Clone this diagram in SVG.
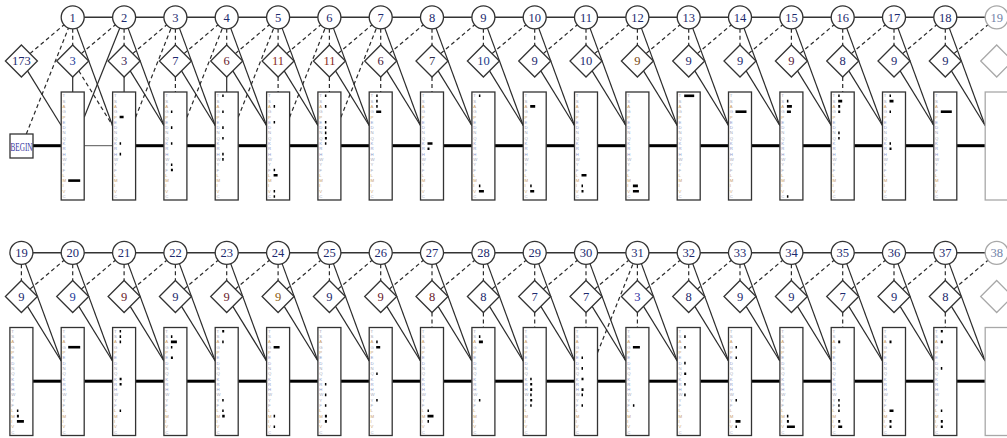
<svg xmlns="http://www.w3.org/2000/svg" xmlns:xlink="http://www.w3.org/1999/xlink" width="1007" height="438" viewBox="0 0 1007 438">
<style>
.sol{stroke:#2b2b2b;stroke-width:1.2;fill:none}
.dash{stroke:#2b2b2b;stroke-width:1.2;fill:none;stroke-dasharray:4,3}
.thick{stroke:#000;stroke-width:3;fill:none}
.thin{stroke:#555;stroke-width:1;fill:none}
.top{stroke:#333;stroke-width:1.6;fill:none}
.nd circle,.nd polygon,.nd rect,.nd use.sh{fill:#fff;stroke:#333;stroke-width:1.3}
.gh circle,.gh polygon,.gh rect,.gh use.sh{fill:#fff;stroke:#a8a8a8;stroke-width:1.3}
.lab{font-family:"Liberation Serif",serif;font-size:12.5px;text-anchor:middle;fill:#1c2a6e}
.aa text{font-family:"Liberation Sans",sans-serif;font-size:4.3px;fill:#a4a8b8}
.aa .o{fill:#c9a06a}
.aa .b2{fill:#8c98c8}
.b{fill:#000}
</style>
<defs>
<polygon id="dia" points="0,45 16,61 0,77 -16,61"/>
<g id="aa" class="aa">
<text x="1.3" y="5.3">T</text><text x="1.3" y="10.6">S</text><text x="1.3" y="15.9" class="o">A</text><text x="1.3" y="21.2">G</text><text x="1.3" y="26.5" class="o">P</text><text x="1.3" y="31.8" class="b2">E</text><text x="1.3" y="37.1" class="b2">D</text><text x="1.3" y="42.4">N</text><text x="1.3" y="47.7">Q</text><text x="1.3" y="53" class="b2">K</text><text x="1.3" y="58.3" class="b2">R</text><text x="1.3" y="63.6" class="b2">H</text><text x="1.3" y="68.9">W</text><text x="1.3" y="74.2">Y</text><text x="1.3" y="79.5">F</text><text x="1.3" y="84.8" class="o">L</text><text x="1.3" y="90.1" class="o">M</text><text x="1.3" y="95.4" class="o">I</text><text x="1.3" y="100.7" class="o">V</text><text x="1.3" y="106">C</text>
</g>
<line id="eDI" class="dash" x1="0" y1="28.8" x2="0" y2="45"/>
<line id="eMI" class="sol" x1="0" y1="77" x2="0" y2="92"/>
<line id="eMId" class="dash" x1="0" y1="77" x2="0" y2="92"/>
<line id="eDM" class="sol" x1="4" y1="28.1" x2="39.8" y2="125.5"/>
<line id="eIM" class="sol" x1="6.1" y1="70.9" x2="39.8" y2="125.5"/>
<line id="eIMd" class="dash" x1="6.1" y1="70.9" x2="39.8" y2="125.5"/>
<line id="eID" class="dash" x1="8.6" y1="53.6" x2="42.6" y2="24.8"/>
<line id="eMD" class="dash" x1="11.5" y1="117.2" x2="47.1" y2="28"/>
<line id="eMDs" class="sol" x1="11.5" y1="117.2" x2="47.1" y2="28"/>
<line id="eMM" class="thick" x1="11.5" y1="145.7" x2="39.8" y2="145.7"/>
<line id="eMMt" class="thin" x1="11.5" y1="145.7" x2="39.8" y2="145.7"/>
</defs>
<rect width="1007" height="438" fill="#fff"/>

<g id="connectors">
<line class="top" x1="72.7" y1="17.3" x2="996.7" y2="17.3"/>
<line class="top" x1="21.4" y1="252.8" x2="996.7" y2="252.8"/>
<line class="thick" x1="33" y1="145.7" x2="61.2" y2="145.7"/>
<line class="dash" x1="26.3" y1="134" x2="68.5" y2="28"/>
<g id="row1-edges">
<use href="#eMMt" x="72.7"/>
<use href="#eMM" x="124.1"/><use href="#eMM" x="175.4"/><use href="#eMM" x="226.7"/><use href="#eMM" x="278.1"/><use href="#eMM" x="329.4"/><use href="#eMM" x="380.7"/><use href="#eMM" x="432"/><use href="#eMM" x="483.4"/><use href="#eMM" x="534.7"/><use href="#eMM" x="586"/><use href="#eMM" x="637.4"/><use href="#eMM" x="688.7"/><use href="#eMM" x="740"/><use href="#eMM" x="791.4"/><use href="#eMM" x="842.7"/><use href="#eMM" x="894"/><use href="#eMM" x="945.3"/>
<use href="#eDI" x="72.7"/><use href="#eDI" x="124.1"/><use href="#eDI" x="175.4"/><use href="#eDI" x="226.7"/><use href="#eDI" x="278.1"/><use href="#eDI" x="329.4"/><use href="#eDI" x="380.7"/><use href="#eDI" x="432"/><use href="#eDI" x="483.4"/><use href="#eDI" x="534.7"/><use href="#eDI" x="586"/><use href="#eDI" x="637.4"/><use href="#eDI" x="688.7"/><use href="#eDI" x="740"/><use href="#eDI" x="791.4"/><use href="#eDI" x="842.7"/><use href="#eDI" x="894"/><use href="#eDI" x="945.3"/>
<use href="#eMI" x="72.7"/><use href="#eMI" x="124.1"/><use href="#eMId" x="175.4"/><use href="#eMI" x="226.7"/><use href="#eMId" x="278.1"/><use href="#eMId" x="329.4"/><use href="#eMId" x="380.7"/><use href="#eMId" x="432"/><use href="#eMId" x="842.7"/>
<use href="#eDM" x="72.7"/><use href="#eDM" x="124.1"/><use href="#eDM" x="175.4"/><use href="#eDM" x="226.7"/><use href="#eDM" x="278.1"/><use href="#eDM" x="329.4"/><use href="#eDM" x="380.7"/><use href="#eDM" x="432"/><use href="#eDM" x="483.4"/><use href="#eDM" x="534.7"/><use href="#eDM" x="586"/><use href="#eDM" x="637.4"/><use href="#eDM" x="688.7"/><use href="#eDM" x="740"/><use href="#eDM" x="791.4"/><use href="#eDM" x="842.7"/><use href="#eDM" x="894"/><use href="#eDM" x="945.3"/>
<use href="#eIM" x="21.4"/><use href="#eIMd" x="72.7"/><use href="#eIM" x="124.1"/><use href="#eIM" x="175.4"/><use href="#eIM" x="226.7"/><use href="#eIM" x="278.1"/><use href="#eIM" x="329.4"/><use href="#eIM" x="380.7"/><use href="#eIM" x="432"/><use href="#eIM" x="483.4"/><use href="#eIM" x="534.7"/><use href="#eIM" x="586"/><use href="#eIM" x="637.4"/><use href="#eIM" x="688.7"/><use href="#eIM" x="740"/><use href="#eIM" x="791.4"/><use href="#eIM" x="842.7"/><use href="#eIM" x="894"/><use href="#eIM" x="945.3"/>
<use href="#eID" x="21.4"/><use href="#eID" x="72.7"/><use href="#eID" x="124.1"/><use href="#eID" x="175.4"/><use href="#eID" x="226.7"/><use href="#eID" x="278.1"/><use href="#eID" x="329.4"/><use href="#eID" x="380.7"/><use href="#eID" x="432"/><use href="#eID" x="483.4"/><use href="#eID" x="534.7"/><use href="#eID" x="586"/><use href="#eID" x="637.4"/><use href="#eID" x="688.7"/><use href="#eID" x="740"/><use href="#eID" x="791.4"/><use href="#eID" x="842.7"/><use href="#eID" x="894"/><use href="#eID" x="945.3"/>
<use href="#eMDs" x="72.7"/><use href="#eMD" x="124.1"/><use href="#eMD" x="175.4"/><use href="#eMD" x="226.7"/><use href="#eMD" x="278.1"/><use href="#eMD" x="329.4"/>
</g>
<g id="row2-edges" transform="translate(0,235.5)">
<use href="#eMM" x="21.4"/><use href="#eMM" x="72.7"/><use href="#eMM" x="124.1"/><use href="#eMM" x="175.4"/><use href="#eMM" x="226.7"/><use href="#eMM" x="278.1"/><use href="#eMM" x="329.4"/><use href="#eMM" x="380.7"/><use href="#eMM" x="432"/><use href="#eMM" x="483.4"/><use href="#eMM" x="534.7"/><use href="#eMM" x="586"/><use href="#eMM" x="637.4"/><use href="#eMM" x="688.7"/><use href="#eMM" x="740"/><use href="#eMM" x="791.4"/><use href="#eMM" x="842.7"/><use href="#eMM" x="894"/><use href="#eMM" x="945.3"/>
<use href="#eDI" x="21.4"/><use href="#eDI" x="72.7"/><use href="#eDI" x="124.1"/><use href="#eDI" x="175.4"/><use href="#eDI" x="226.7"/><use href="#eDI" x="278.1"/><use href="#eDI" x="329.4"/><use href="#eDI" x="380.7"/><use href="#eDI" x="432"/><use href="#eDI" x="483.4"/><use href="#eDI" x="534.7"/><use href="#eDI" x="586"/><use href="#eDI" x="637.4"/><use href="#eDI" x="688.7"/><use href="#eDI" x="740"/><use href="#eDI" x="791.4"/><use href="#eDI" x="842.7"/><use href="#eDI" x="894"/><use href="#eDI" x="945.3"/>
<use href="#eMId" x="432"/><use href="#eMId" x="483.4"/><use href="#eMId" x="534.7"/><use href="#eMId" x="586"/><use href="#eMId" x="637.4"/><use href="#eMId" x="842.7"/><use href="#eMId" x="945.3"/>
<use href="#eDM" x="21.4"/><use href="#eDM" x="72.7"/><use href="#eDM" x="124.1"/><use href="#eDM" x="175.4"/><use href="#eDM" x="226.7"/><use href="#eDM" x="278.1"/><use href="#eDM" x="329.4"/><use href="#eDM" x="380.7"/><use href="#eDM" x="432"/><use href="#eDM" x="483.4"/><use href="#eDM" x="534.7"/><use href="#eDM" x="586"/><use href="#eDM" x="637.4"/><use href="#eDM" x="688.7"/><use href="#eDM" x="740"/><use href="#eDM" x="791.4"/><use href="#eDM" x="842.7"/><use href="#eDM" x="894"/><use href="#eDM" x="945.3"/>
<use href="#eIM" x="21.4"/><use href="#eIM" x="72.7"/><use href="#eIM" x="124.1"/><use href="#eIM" x="175.4"/><use href="#eIM" x="226.7"/><use href="#eIM" x="278.1"/><use href="#eIM" x="329.4"/><use href="#eIM" x="380.7"/><use href="#eIM" x="432"/><use href="#eIM" x="483.4"/><use href="#eIM" x="534.7"/><use href="#eIM" x="586"/><use href="#eIM" x="637.4"/><use href="#eIM" x="688.7"/><use href="#eIM" x="740"/><use href="#eIM" x="791.4"/><use href="#eIM" x="842.7"/><use href="#eIM" x="894"/><use href="#eIM" x="945.3"/>
<use href="#eID" x="21.4"/><use href="#eID" x="72.7"/><use href="#eID" x="124.1"/><use href="#eID" x="175.4"/><use href="#eID" x="226.7"/><use href="#eID" x="278.1"/><use href="#eID" x="329.4"/><use href="#eID" x="380.7"/><use href="#eID" x="432"/><use href="#eID" x="483.4"/><use href="#eID" x="534.7"/><use href="#eID" x="586"/><use href="#eID" x="637.4"/><use href="#eID" x="688.7"/><use href="#eID" x="740"/><use href="#eID" x="791.4"/><use href="#eID" x="842.7"/><use href="#eID" x="894"/><use href="#eID" x="945.3"/>
<use href="#eMD" x="586"/>
</g>
</g>

<g id="BEGIN" class="nd"><rect x="10" y="134" width="23" height="24"/><text x="21.5" y="150.5" font-family="Liberation Serif,serif" font-size="12" fill="#3535a0" textLength="22" lengthAdjust="spacingAndGlyphs" text-anchor="middle">BEGIN</text></g>

<!-- Row 1 delete states -->
<g id="D1" class="nd" transform="translate(72.7,0)"><circle cy="17.3" r="11.5"/><text class="lab" y="21.6">1</text></g>
<g id="D2" class="nd" transform="translate(124.1,0)"><circle cy="17.3" r="11.5"/><text class="lab" y="21.6">2</text></g>
<g id="D3" class="nd" transform="translate(175.4,0)"><circle cy="17.3" r="11.5"/><text class="lab" y="21.6">3</text></g>
<g id="D4" class="nd" transform="translate(226.7,0)"><circle cy="17.3" r="11.5"/><text class="lab" y="21.6">4</text></g>
<g id="D5" class="nd" transform="translate(278.1,0)"><circle cy="17.3" r="11.5"/><text class="lab" y="21.6">5</text></g>
<g id="D6" class="nd" transform="translate(329.4,0)"><circle cy="17.3" r="11.5"/><text class="lab" y="21.6">6</text></g>
<g id="D7" class="nd" transform="translate(380.7,0)"><circle cy="17.3" r="11.5"/><text class="lab" y="21.6">7</text></g>
<g id="D8" class="nd" transform="translate(432,0)"><circle cy="17.3" r="11.5"/><text class="lab" y="21.6">8</text></g>
<g id="D9" class="nd" transform="translate(483.4,0)"><circle cy="17.3" r="11.5"/><text class="lab" y="21.6">9</text></g>
<g id="D10" class="nd" transform="translate(534.7,0)"><circle cy="17.3" r="11.5"/><text class="lab" y="21.6">10</text></g>
<g id="D11" class="nd" transform="translate(586,0)"><circle cy="17.3" r="11.5"/><text class="lab" y="21.6">11</text></g>
<g id="D12" class="nd" transform="translate(637.4,0)"><circle cy="17.3" r="11.5"/><text class="lab" y="21.6">12</text></g>
<g id="D13" class="nd" transform="translate(688.7,0)"><circle cy="17.3" r="11.5"/><text class="lab" y="21.6">13</text></g>
<g id="D14" class="nd" transform="translate(740,0)"><circle cy="17.3" r="11.5"/><text class="lab" y="21.6">14</text></g>
<g id="D15" class="nd" transform="translate(791.4,0)"><circle cy="17.3" r="11.5"/><text class="lab" y="21.6">15</text></g>
<g id="D16" class="nd" transform="translate(842.7,0)"><circle cy="17.3" r="11.5"/><text class="lab" y="21.6">16</text></g>
<g id="D17" class="nd" transform="translate(894,0)"><circle cy="17.3" r="11.5"/><text class="lab" y="21.6">17</text></g>
<g id="D18" class="nd" transform="translate(945.3,0)"><circle cy="17.3" r="11.5"/><text class="lab" y="21.6">18</text></g>
<g id="D19-next" class="gh" transform="translate(996.7,0)"><circle cy="17.3" r="11.5"/><text class="lab" y="21.6" style="fill:#7283a8">19</text></g>

<!-- Row 1 insert states -->
<g id="I0" class="nd" transform="translate(21.4,0)"><use class="sh" href="#dia"/><text class="lab" y="65.3">173</text></g>
<g id="I1" class="nd" transform="translate(72.7,0)"><use class="sh" href="#dia"/><text class="lab" y="65.3" style="fill:#1a3a9a">3</text></g>
<g id="I2" class="nd" transform="translate(124.1,0)"><use class="sh" href="#dia"/><text class="lab" y="65.3" style="fill:#3a2050">3</text></g>
<g id="I3" class="nd" transform="translate(175.4,0)"><use class="sh" href="#dia"/><text class="lab" y="65.3">7</text></g>
<g id="I4" class="nd" transform="translate(226.7,0)"><use class="sh" href="#dia"/><text class="lab" y="65.3" style="fill:#6a1a2a">6</text></g>
<g id="I5" class="nd" transform="translate(278.1,0)"><use class="sh" href="#dia"/><text class="lab" y="65.3" style="fill:#8a2a1a">11</text></g>
<g id="I6" class="nd" transform="translate(329.4,0)"><use class="sh" href="#dia"/><text class="lab" y="65.3" style="fill:#8a2a1a">11</text></g>
<g id="I7" class="nd" transform="translate(380.7,0)"><use class="sh" href="#dia"/><text class="lab" y="65.3" style="fill:#4a1a3a">6</text></g>
<g id="I8" class="nd" transform="translate(432,0)"><use class="sh" href="#dia"/><text class="lab" y="65.3" style="fill:#2a2a4a">7</text></g>
<g id="I9" class="nd" transform="translate(483.4,0)"><use class="sh" href="#dia"/><text class="lab" y="65.3" style="fill:#1a3a8a">10</text></g>
<g id="I10" class="nd" transform="translate(534.7,0)"><use class="sh" href="#dia"/><text class="lab" y="65.3">9</text></g>
<g id="I11" class="nd" transform="translate(586,0)"><use class="sh" href="#dia"/><text class="lab" y="65.3">10</text></g>
<g id="I12" class="nd" transform="translate(637.4,0)"><use class="sh" href="#dia"/><text class="lab" y="65.3" style="fill:#7a4a10">9</text></g>
<g id="I13" class="nd" transform="translate(688.7,0)"><use class="sh" href="#dia"/><text class="lab" y="65.3">9</text></g>
<g id="I14" class="nd" transform="translate(740,0)"><use class="sh" href="#dia"/><text class="lab" y="65.3">9</text></g>
<g id="I15" class="nd" transform="translate(791.4,0)"><use class="sh" href="#dia"/><text class="lab" y="65.3" style="fill:#5a1a3a">9</text></g>
<g id="I16" class="nd" transform="translate(842.7,0)"><use class="sh" href="#dia"/><text class="lab" y="65.3">8</text></g>
<g id="I17" class="nd" transform="translate(894,0)"><use class="sh" href="#dia"/><text class="lab" y="65.3">9</text></g>
<g id="I18" class="nd" transform="translate(945.3,0)"><use class="sh" href="#dia"/><text class="lab" y="65.3">9</text></g>
<g id="I19-next" class="gh" transform="translate(996.7,0)"><use class="sh" href="#dia"/></g>

<!-- Row 1 match states -->
<g id="M1" class="nd" transform="translate(72.7,0)"><rect x="-11.5" y="92" width="23" height="108"/><use href="#aa" x="-11.5" y="92"/><path class="b" d="M-4.5 179.3h12v2.6h-12z"/></g>
<g id="M2" class="nd" transform="translate(124.1,0)"><rect x="-11.5" y="92" width="23" height="108"/><use href="#aa" x="-11.5" y="92"/><path class="b" d="M-4.5 115.7h4v2.6h-4zM-4.5 142.2h1.5v2.6h-1.5zM-4.5 152.8h1.5v2.6h-1.5z"/></g>
<g id="M3" class="nd" transform="translate(175.4,0)"><rect x="-11.5" y="92" width="23" height="108"/><use href="#aa" x="-11.5" y="92"/><path class="b" d="M-4.5 110.4h1.5v2.6h-1.5zM-4.5 126.3h1.5v2.6h-1.5zM-4.5 142.2h1.5v2.6h-1.5zM-4.5 163.4h1.5v2.6h-1.5zM-4.5 168.7h2v2.6h-2z"/></g>
<g id="M4" class="nd" transform="translate(226.7,0)"><rect x="-11.5" y="92" width="23" height="108"/><use href="#aa" x="-11.5" y="92"/><path class="b" d="M-4.5 94.5h1.5v2.6h-1.5zM-4.5 110.4h1.5v2.6h-1.5zM-4.5 126.3h1.5v2.6h-1.5zM-4.5 136.9h1.5v2.6h-1.5zM-4.5 152.8h1.5v2.6h-1.5zM-4.5 158.1h1.5v2.6h-1.5z"/></g>
<g id="M5" class="nd" transform="translate(278.1,0)"><rect x="-11.5" y="92" width="23" height="108"/><use href="#aa" x="-11.5" y="92"/><path class="b" d="M-4.5 105.1h1.5v2.6h-1.5zM-4.5 121h1.5v2.6h-1.5zM-4.5 168.7h1.5v2.6h-1.5zM-4.5 174h4v2.6h-4zM-4.5 189.9h1.5v2.6h-1.5zM-4.5 195.2h1.5v2.6h-1.5z"/></g>
<g id="M6" class="nd" transform="translate(329.4,0)"><rect x="-11.5" y="92" width="23" height="108"/><use href="#aa" x="-11.5" y="92"/><path class="b" d="M-4.5 94.5h1.5v2.6h-1.5zM-4.5 105.1h1.5v2.6h-1.5zM-4.5 121h1.5v2.6h-1.5zM-4.5 126.3h1.5v2.6h-1.5zM-4.5 131.6h1.5v2.6h-1.5zM-4.5 136.9h2v2.6h-2zM-4.5 142.2h1.5v2.6h-1.5z"/></g>
<g id="M7" class="nd" transform="translate(380.7,0)"><rect x="-11.5" y="92" width="23" height="108"/><use href="#aa" x="-11.5" y="92"/><path class="b" d="M-4.5 94.5h1.5v2.6h-1.5zM-4.5 99.8h1.5v2.6h-1.5zM-4.5 105.1h1.5v2.6h-1.5zM-4.5 110.4h5v2.6h-5z"/></g>
<g id="M8" class="nd" transform="translate(432,0)"><rect x="-11.5" y="92" width="23" height="108"/><use href="#aa" x="-11.5" y="92"/><path class="b" d="M-4.5 142.2h5v2.6h-5zM-4.5 147.5h2v2.6h-2z"/></g>
<g id="M9" class="nd" transform="translate(483.4,0)"><rect x="-11.5" y="92" width="23" height="108"/><use href="#aa" x="-11.5" y="92"/><path class="b" d="M-4.5 94.5h1.5v2.6h-1.5zM-4.5 184.6h1.5v2.6h-1.5zM-4.5 189.9h5v2.6h-5z"/></g>
<g id="M10" class="nd" transform="translate(534.7,0)"><rect x="-11.5" y="92" width="23" height="108"/><use href="#aa" x="-11.5" y="92"/><path class="b" d="M-4.5 105.1h5v2.6h-5zM-4.5 184.6h1.5v2.6h-1.5zM-4.5 189.9h4v2.6h-4z"/></g>
<g id="M11" class="nd" transform="translate(586,0)"><rect x="-11.5" y="92" width="23" height="108"/><use href="#aa" x="-11.5" y="92"/><path class="b" d="M-4.5 174h5v2.6h-5zM-4.5 184.6h1.5v2.6h-1.5zM-4.5 189.9h2v2.6h-2z"/></g>
<g id="M12" class="nd" transform="translate(637.4,0)"><rect x="-11.5" y="92" width="23" height="108"/><use href="#aa" x="-11.5" y="92"/><path class="b" d="M-4.5 184.6h5v2.6h-5zM-4.5 189.9h6v2.6h-6z"/></g>
<g id="M13" class="nd" transform="translate(688.7,0)"><rect x="-11.5" y="92" width="23" height="108"/><use href="#aa" x="-11.5" y="92"/><path class="b" d="M-4.5 94.5h10v2.6h-10z"/></g>
<g id="M14" class="nd" transform="translate(740,0)"><rect x="-11.5" y="92" width="23" height="108"/><use href="#aa" x="-11.5" y="92"/><path class="b" d="M-4.5 110.4h11v2.6h-11z"/></g>
<g id="M15" class="nd" transform="translate(791.4,0)"><rect x="-11.5" y="92" width="23" height="108"/><use href="#aa" x="-11.5" y="92"/><path class="b" d="M-4.5 99.8h1.5v2.6h-1.5zM-4.5 105.1h5v2.6h-5zM-4.5 110.4h4v2.6h-4zM-4.5 195.2h1.5v2.6h-1.5z"/></g>
<g id="M16" class="nd" transform="translate(842.7,0)"><rect x="-11.5" y="92" width="23" height="108"/><use href="#aa" x="-11.5" y="92"/><path class="b" d="M-4.5 94.5h1.5v2.6h-1.5zM-4.5 99.8h4v2.6h-4zM-4.5 105.1h2v2.6h-2zM-4.5 110.4h2v2.6h-2zM-4.5 131.6h1.5v2.6h-1.5zM-4.5 136.9h1.5v2.6h-1.5z"/></g>
<g id="M17" class="nd" transform="translate(894,0)"><rect x="-11.5" y="92" width="23" height="108"/><use href="#aa" x="-11.5" y="92"/><path class="b" d="M-4.5 94.5h1.5v2.6h-1.5zM-4.5 99.8h4v2.6h-4zM-4.5 110.4h1.5v2.6h-1.5zM-4.5 142.2h1.5v2.6h-1.5zM-4.5 147.5h2v2.6h-2z"/></g>
<g id="M18" class="nd" transform="translate(945.3,0)"><rect x="-11.5" y="92" width="23" height="108"/><use href="#aa" x="-11.5" y="92"/><path class="b" d="M-4.5 110.4h11v2.6h-11z"/></g>
<g id="M19-next" class="gh" transform="translate(996.7,0)"><rect x="-11.5" y="92" width="23" height="108"/></g>

<!-- Row 2 delete states -->
<g id="D19" class="nd" transform="translate(21.4,235.5)"><circle cy="17.3" r="11.5"/><text class="lab" y="21.6">19</text></g>
<g id="D20" class="nd" transform="translate(72.7,235.5)"><circle cy="17.3" r="11.5"/><text class="lab" y="21.6">20</text></g>
<g id="D21" class="nd" transform="translate(124.1,235.5)"><circle cy="17.3" r="11.5"/><text class="lab" y="21.6">21</text></g>
<g id="D22" class="nd" transform="translate(175.4,235.5)"><circle cy="17.3" r="11.5"/><text class="lab" y="21.6">22</text></g>
<g id="D23" class="nd" transform="translate(226.7,235.5)"><circle cy="17.3" r="11.5"/><text class="lab" y="21.6">23</text></g>
<g id="D24" class="nd" transform="translate(278.1,235.5)"><circle cy="17.3" r="11.5"/><text class="lab" y="21.6">24</text></g>
<g id="D25" class="nd" transform="translate(329.4,235.5)"><circle cy="17.3" r="11.5"/><text class="lab" y="21.6">25</text></g>
<g id="D26" class="nd" transform="translate(380.7,235.5)"><circle cy="17.3" r="11.5"/><text class="lab" y="21.6">26</text></g>
<g id="D27" class="nd" transform="translate(432,235.5)"><circle cy="17.3" r="11.5"/><text class="lab" y="21.6">27</text></g>
<g id="D28" class="nd" transform="translate(483.4,235.5)"><circle cy="17.3" r="11.5"/><text class="lab" y="21.6">28</text></g>
<g id="D29" class="nd" transform="translate(534.7,235.5)"><circle cy="17.3" r="11.5"/><text class="lab" y="21.6">29</text></g>
<g id="D30" class="nd" transform="translate(586,235.5)"><circle cy="17.3" r="11.5"/><text class="lab" y="21.6">30</text></g>
<g id="D31" class="nd" transform="translate(637.4,235.5)"><circle cy="17.3" r="11.5"/><text class="lab" y="21.6">31</text></g>
<g id="D32" class="nd" transform="translate(688.7,235.5)"><circle cy="17.3" r="11.5"/><text class="lab" y="21.6">32</text></g>
<g id="D33" class="nd" transform="translate(740,235.5)"><circle cy="17.3" r="11.5"/><text class="lab" y="21.6">33</text></g>
<g id="D34" class="nd" transform="translate(791.4,235.5)"><circle cy="17.3" r="11.5"/><text class="lab" y="21.6">34</text></g>
<g id="D35" class="nd" transform="translate(842.7,235.5)"><circle cy="17.3" r="11.5"/><text class="lab" y="21.6">35</text></g>
<g id="D36" class="nd" transform="translate(894,235.5)"><circle cy="17.3" r="11.5"/><text class="lab" y="21.6">36</text></g>
<g id="D37" class="nd" transform="translate(945.3,235.5)"><circle cy="17.3" r="11.5"/><text class="lab" y="21.6">37</text></g>
<g id="D38-next" class="gh" transform="translate(996.7,235.5)"><circle cy="17.3" r="11.5"/><text class="lab" y="21.6" style="fill:#7283a8">38</text></g>

<!-- Row 2 insert states -->
<g id="I19" class="nd" transform="translate(21.4,235.5)"><use class="sh" href="#dia"/><text class="lab" y="65.3">9</text></g>
<g id="I20" class="nd" transform="translate(72.7,235.5)"><use class="sh" href="#dia"/><text class="lab" y="65.3" style="fill:#1a3a9a">9</text></g>
<g id="I21" class="nd" transform="translate(124.1,235.5)"><use class="sh" href="#dia"/><text class="lab" y="65.3" style="fill:#6a1a2a">9</text></g>
<g id="I22" class="nd" transform="translate(175.4,235.5)"><use class="sh" href="#dia"/><text class="lab" y="65.3">9</text></g>
<g id="I23" class="nd" transform="translate(226.7,235.5)"><use class="sh" href="#dia"/><text class="lab" y="65.3" style="fill:#6a1a2a">9</text></g>
<g id="I24" class="nd" transform="translate(278.1,235.5)"><use class="sh" href="#dia"/><text class="lab" y="65.3" style="fill:#8a5a10">9</text></g>
<g id="I25" class="nd" transform="translate(329.4,235.5)"><use class="sh" href="#dia"/><text class="lab" y="65.3">9</text></g>
<g id="I26" class="nd" transform="translate(380.7,235.5)"><use class="sh" href="#dia"/><text class="lab" y="65.3" style="fill:#6a1a2a">9</text></g>
<g id="I27" class="nd" transform="translate(432,235.5)"><use class="sh" href="#dia"/><text class="lab" y="65.3" style="fill:#6a1a2a">8</text></g>
<g id="I28" class="nd" transform="translate(483.4,235.5)"><use class="sh" href="#dia"/><text class="lab" y="65.3">8</text></g>
<g id="I29" class="nd" transform="translate(534.7,235.5)"><use class="sh" href="#dia"/><text class="lab" y="65.3">7</text></g>
<g id="I30" class="nd" transform="translate(586,235.5)"><use class="sh" href="#dia"/><text class="lab" y="65.3">7</text></g>
<g id="I31" class="nd" transform="translate(637.4,235.5)"><use class="sh" href="#dia"/><text class="lab" y="65.3" style="fill:#2a2aa0">3</text></g>
<g id="I32" class="nd" transform="translate(688.7,235.5)"><use class="sh" href="#dia"/><text class="lab" y="65.3">8</text></g>
<g id="I33" class="nd" transform="translate(740,235.5)"><use class="sh" href="#dia"/><text class="lab" y="65.3">9</text></g>
<g id="I34" class="nd" transform="translate(791.4,235.5)"><use class="sh" href="#dia"/><text class="lab" y="65.3">9</text></g>
<g id="I35" class="nd" transform="translate(842.7,235.5)"><use class="sh" href="#dia"/><text class="lab" y="65.3">7</text></g>
<g id="I36" class="nd" transform="translate(894,235.5)"><use class="sh" href="#dia"/><text class="lab" y="65.3">9</text></g>
<g id="I37" class="nd" transform="translate(945.3,235.5)"><use class="sh" href="#dia"/><text class="lab" y="65.3">8</text></g>
<g id="I38-next" class="gh" transform="translate(996.7,235.5)"><use class="sh" href="#dia"/></g>

<!-- Row 2 match states -->
<g id="M19" class="nd" transform="translate(21.4,235.5)"><rect x="-11.5" y="92" width="23" height="108"/><use href="#aa" x="-11.5" y="92"/><path class="b" d="M-4.5 174h1.5v2.6h-1.5zM-4.5 179.3h2v2.6h-2zM-4.5 184.6h7v2.6h-7z"/></g>
<g id="M20" class="nd" transform="translate(72.7,235.5)"><rect x="-11.5" y="92" width="23" height="108"/><use href="#aa" x="-11.5" y="92"/><path class="b" d="M-4.5 110.4h12v2.6h-12z"/></g>
<g id="M21" class="nd" transform="translate(124.1,235.5)"><rect x="-11.5" y="92" width="23" height="108"/><use href="#aa" x="-11.5" y="92"/><path class="b" d="M-4.5 94.5h1.5v2.6h-1.5zM-4.5 99.8h1.5v2.6h-1.5zM-4.5 105.1h1.5v2.6h-1.5zM-4.5 142.2h2v2.6h-2zM-4.5 147.5h2v2.6h-2zM-4.5 174h1.5v2.6h-1.5z"/></g>
<g id="M22" class="nd" transform="translate(175.4,235.5)"><rect x="-11.5" y="92" width="23" height="108"/><use href="#aa" x="-11.5" y="92"/><path class="b" d="M-4.5 99.8h1.5v2.6h-1.5zM-4.5 105.1h6v2.6h-6zM-4.5 110.4h1.5v2.6h-1.5zM-4.5 121h2v2.6h-2z"/></g>
<g id="M23" class="nd" transform="translate(226.7,235.5)"><rect x="-11.5" y="92" width="23" height="108"/><use href="#aa" x="-11.5" y="92"/><path class="b" d="M-4.5 94.5h2v2.6h-2zM-4.5 105.1h1.5v2.6h-1.5zM-4.5 163.4h1.5v2.6h-1.5zM-4.5 174h1.5v2.6h-1.5zM-4.5 179.3h2.5v2.6h-2.5z"/></g>
<g id="M24" class="nd" transform="translate(278.1,235.5)"><rect x="-11.5" y="92" width="23" height="108"/><use href="#aa" x="-11.5" y="92"/><path class="b" d="M-4.5 110.4h6v2.6h-6zM-4.5 179.3h1.5v2.6h-1.5zM-4.5 189.9h1.5v2.6h-1.5z"/></g>
<g id="M25" class="nd" transform="translate(329.4,235.5)"><rect x="-11.5" y="92" width="23" height="108"/><use href="#aa" x="-11.5" y="92"/><path class="b" d="M-4.5 147.5h1.5v2.6h-1.5zM-4.5 158.1h1.5v2.6h-1.5zM-4.5 168.7h1.5v2.6h-1.5zM-4.5 179.3h2v2.6h-2zM-4.5 184.6h2v2.6h-2z"/></g>
<g id="M26" class="nd" transform="translate(380.7,235.5)"><rect x="-11.5" y="92" width="23" height="108"/><use href="#aa" x="-11.5" y="92"/><path class="b" d="M-4.5 105.1h1.5v2.6h-1.5zM-4.5 110.4h4v2.6h-4zM-4.5 136.9h1.5v2.6h-1.5zM-4.5 163.4h1.5v2.6h-1.5z"/></g>
<g id="M27" class="nd" transform="translate(432,235.5)"><rect x="-11.5" y="92" width="23" height="108"/><use href="#aa" x="-11.5" y="92"/><path class="b" d="M-4.5 174h1.5v2.6h-1.5zM-4.5 179.3h6v2.6h-6zM-4.5 184.6h1.5v2.6h-1.5z"/></g>
<g id="M28" class="nd" transform="translate(483.4,235.5)"><rect x="-11.5" y="92" width="23" height="108"/><use href="#aa" x="-11.5" y="92"/><path class="b" d="M-4.5 99.8h1.5v2.6h-1.5zM-4.5 105.1h4v2.6h-4zM-4.5 163.4h1.5v2.6h-1.5z"/></g>
<g id="M29" class="nd" transform="translate(534.7,235.5)"><rect x="-11.5" y="92" width="23" height="108"/><use href="#aa" x="-11.5" y="92"/><path class="b" d="M-4.5 142.2h1.5v2.6h-1.5zM-4.5 147.5h2v2.6h-2zM-4.5 152.8h2v2.6h-2zM-4.5 158.1h1.5v2.6h-1.5zM-4.5 163.4h2v2.6h-2zM-4.5 168.7h1.5v2.6h-1.5z"/></g>
<g id="M30" class="nd" transform="translate(586,235.5)"><rect x="-11.5" y="92" width="23" height="108"/><use href="#aa" x="-11.5" y="92"/><path class="b" d="M-4.5 121h1.5v2.6h-1.5zM-4.5 131.6h1.5v2.6h-1.5zM-4.5 142.2h2v2.6h-2zM-4.5 152.8h2v2.6h-2zM-4.5 158.1h1.5v2.6h-1.5zM-4.5 168.7h1.5v2.6h-1.5z"/></g>
<g id="M31" class="nd" transform="translate(637.4,235.5)"><rect x="-11.5" y="92" width="23" height="108"/><use href="#aa" x="-11.5" y="92"/><path class="b" d="M-4.5 110.4h7v2.6h-7zM-4.5 168.7h1.5v2.6h-1.5z"/></g>
<g id="M32" class="nd" transform="translate(688.7,235.5)"><rect x="-11.5" y="92" width="23" height="108"/><use href="#aa" x="-11.5" y="92"/><path class="b" d="M-4.5 99.8h1.5v2.6h-1.5zM-4.5 110.4h1.5v2.6h-1.5zM-4.5 126.3h1.5v2.6h-1.5zM-4.5 136.9h2v2.6h-2zM-4.5 147.5h1.5v2.6h-1.5zM-4.5 158.1h1.5v2.6h-1.5z"/></g>
<g id="M33" class="nd" transform="translate(740,235.5)"><rect x="-11.5" y="92" width="23" height="108"/><use href="#aa" x="-11.5" y="92"/><path class="b" d="M-4.5 110.4h1.5v2.6h-1.5zM-4.5 121h1.5v2.6h-1.5zM-4.5 163.4h1.5v2.6h-1.5zM-4.5 184.6h5v2.6h-5zM-4.5 189.9h1.5v2.6h-1.5z"/></g>
<g id="M34" class="nd" transform="translate(791.4,235.5)"><rect x="-11.5" y="92" width="23" height="108"/><use href="#aa" x="-11.5" y="92"/><path class="b" d="M-4.5 179.3h1.5v2.6h-1.5zM-4.5 184.6h2v2.6h-2zM-4.5 189.9h8v2.6h-8z"/></g>
<g id="M35" class="nd" transform="translate(842.7,235.5)"><rect x="-11.5" y="92" width="23" height="108"/><use href="#aa" x="-11.5" y="92"/><path class="b" d="M-4.5 105.1h2v2.6h-2zM-4.5 163.4h1.5v2.6h-1.5zM-4.5 168.7h1.5v2.6h-1.5zM-4.5 174h1.5v2.6h-1.5zM-4.5 184.6h2v2.6h-2zM-4.5 189.9h4v2.6h-4z"/></g>
<g id="M36" class="nd" transform="translate(894,235.5)"><rect x="-11.5" y="92" width="23" height="108"/><use href="#aa" x="-11.5" y="92"/><path class="b" d="M-4.5 105.1h2v2.6h-2zM-4.5 174h4v2.6h-4zM-4.5 184.6h2v2.6h-2zM-4.5 189.9h2v2.6h-2z"/></g>
<g id="M37" class="nd" transform="translate(945.3,235.5)"><rect x="-11.5" y="92" width="23" height="108"/><use href="#aa" x="-11.5" y="92"/><path class="b" d="M-4.5 94.5h2v2.6h-2zM-4.5 105.1h2v2.6h-2zM-4.5 131.6h1.5v2.6h-1.5zM-4.5 174h1.5v2.6h-1.5zM-4.5 184.6h2v2.6h-2zM-4.5 189.9h2v2.6h-2z"/></g>
<g id="M38-next" class="gh" transform="translate(996.7,235.5)"><rect x="-11.5" y="92" width="23" height="108"/></g>
</svg>
